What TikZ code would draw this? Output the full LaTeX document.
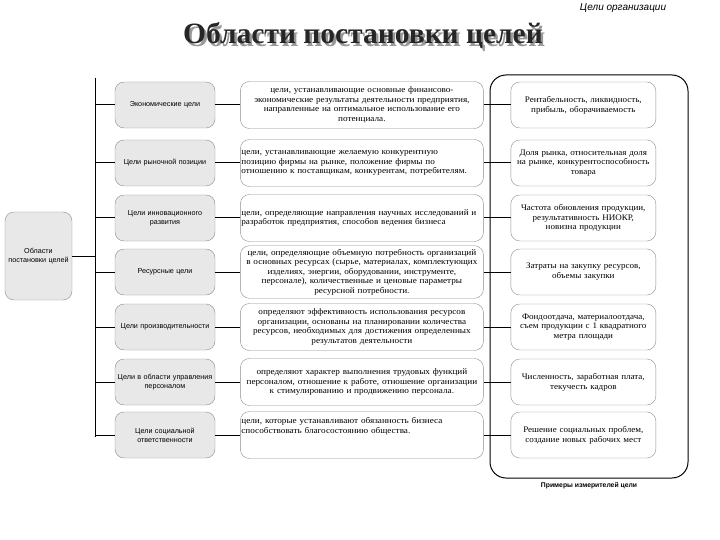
\documentclass[tikz,border=0pt]{standalone}
\usepackage{fontspec}
\setmainfont{Liberation Serif}
\setsansfont{Liberation Sans}
\newfontfamily\descfont{Liberation Serif}[FakeStretch=1.08]
\newfontfamily\gaugefont{Liberation Serif}[FakeStretch=1.06]
\usepackage{tikz}
\usetikzlibrary{positioning}

\begin{document}
\begin{tikzpicture}[
    x=1pt, y=-1pt,
    area/.style={rectangle, draw=black!45, fill=black!9, rounded corners=9pt, minimum width=100pt, minimum height=46pt, text width=98pt, inner xsep=1pt, align=center, font=\sffamily\fontsize{7.2}{9}\selectfont},
    desc/.style={rectangle, draw=black!45, fill=white, rounded corners=9pt, minimum width=243pt, minimum height=47pt, text width=241pt, inner xsep=1pt, align=center, font=\descfont\fontsize{8.5}{9.5}\selectfont},
    gauge/.style={rectangle, draw=black!45, fill=white, rounded corners=9pt, minimum width=145pt, minimum height=46pt, text width=143pt, inner xsep=1pt, align=center, font=\gaugefont\fontsize{8.5}{9.8}\selectfont},
    link/.style={draw=black, line width=1pt},
]
\useasboundingbox (0,0) rectangle (720,540);

% Header
\node[font=\sffamily\itshape\fontsize{10}{11}\selectfont] (head) at (623,8) {Цели организации};
\coordinate (rulea) at (497,18);
\coordinate (ruleb) at (720,18);
\draw[double, double distance=1.6pt, line width=0.6pt] (rulea) -- (ruleb);
\node[font=\bfseries\fontsize{29.5}{30}\selectfont, text=black!85] (title) at (363,36)
  {\makebox[0pt][l]{\raisebox{-2.5pt}[0pt][0pt]{\kern2.5pt\textcolor{black!40}{Области постановки целей}}}Области постановки целей};

% Root
\node[area, minimum width=67pt, text width=65pt, minimum height=88pt] (root) at (38.5,256) {Области\\постановки целей};
\coordinate (spinetop) at (95,78);
\coordinate (spinebot) at (95,437);

% Frame for measures
\node[draw=black, line width=1pt, rounded corners=16pt, minimum width=198pt, minimum height=403pt] (frame) at (589,276.5) {};
\node[font=\sffamily\bfseries\fontsize{6.8}{8}\selectfont, below=0pt of frame] (measure) {Примеры измерителей цели};

% Row 1
\node[area] (a1) at (165,105) {Экономические цели};
\node[desc, right=25pt of a1] (d1) {цели, устанавливающие основные финансово-\\экономические результаты деятельности предприятия,\\направленные на оптимальное использование его\\потенциала.};
\node[gauge, right=27pt of d1] (g1) {Рентабельность, ликвидность,\\прибыль, оборачиваемость};

% Row 2
\node[area] (a2) at (165,163) {Цели рыночной позиции};
\node[desc, align=left, right=25pt of a2] (d2) {цели, устанавливающие желаемую конкурентную\\позицию фирмы на рынке, положение фирмы по\\отношению к поставщикам, конкурентам, потребителям.};
\node[gauge, right=27pt of d2] (g2) {Доля рынка, относительная доля\\на рынке, конкурентоспособность\\товара};

% Row 3
\node[area] (a3) at (165,218) {Цели инновационного\\развития};
\node[desc, align=left, right=25pt of a3] (d3) {цели, определяющие направления научных исследований и\\разработок предприятия, способов ведения бизнеса};
\node[gauge, right=27pt of d3] (g3) {Частота обновления продукции,\\результативность НИОКР,\\новизна продукции};

% Row 4
\node[area] (a4) at (165,272) {Ресурсные цели};
\node[desc, right=25pt of a4] (d4) {цели, определяющие объемную потребность организаций\\в основных ресурсах (сырье, материалах, комплектующих\\изделиях, энергии, оборудовании, инструменте,\\персонале), количественные и ценовые параметры\\ресурсной потребности.};
\node[gauge, right=27pt of d4] (g4) {Затраты на закупку ресурсов,\\объемы закупки};

% Row 5
\node[area] (a5) at (165,327) {Цели производительности};
\node[desc, right=25pt of a5] (d5) {определяют эффективность использования ресурсов\\организации, основаны на планировании количества\\ресурсов, необходимых для достижения определенных\\результатов деятельности};
\node[gauge, right=27pt of d5] (g5) {Фондоотдача, материалоотдача,\\съем продукции с 1 квадратного\\метра площади};

% Row 6
\node[area] (a6) at (165,382) {Цели в области управления\\персоналом};
\node[desc, right=25pt of a6] (d6) {определяют характер выполнения трудовых функций\\персоналом, отношение к работе, отношение организации\\к стимулированию и продвижению персонала.};
\node[gauge, right=27pt of d6] (g6) {Численность, заработная плата,\\текучесть кадров};

% Row 7
\node[area] (a7) at (165,435) {Цели социальной\\ответственности};
\node[desc, align=left, right=25pt of a7] (d7) {цели, которые устанавливают обязанность бизнеса\\способствовать благосостоянию общества.\\~\\~};
\node[gauge, right=27pt of d7] (g7) {Решение социальных проблем,\\создание новых рабочих мест};

% Lines
\draw[link] (spinetop) -- (spinebot);
\draw[link] (root.east) -- (root.east -| spinetop);
\draw[link] (a1.west -| spinetop) -- (a1);
\draw[link] (a2.west -| spinetop) -- (a2);
\draw[link] (a3.west -| spinetop) -- (a3);
\draw[link] (a4.west -| spinetop) -- (a4);
\draw[link] (a5.west -| spinetop) -- (a5);
\draw[link] (a6.west -| spinetop) -- (a6);
\draw[link] (a7.west -| spinetop) -- (a7);
\draw[link] (a1) -- (d1);
\draw[link] (a2) -- (d2);
\draw[link] (a3) -- (d3);
\draw[link] (a4) -- (d4);
\draw[link] (a5) -- (d5);
\draw[link] (a6) -- (d6);
\draw[link] (a7) -- (d7);
\draw[link] (d1) -- (d1.east -| frame.west);
\draw[link] (d2) -- (d2.east -| frame.west);
\draw[link] (d3) -- (d3.east -| frame.west);
\draw[link] (d4) -- (d4.east -| frame.west);
\draw[link] (d5) -- (d5.east -| frame.west);
\draw[link] (d6) -- (d6.east -| frame.west);
\draw[link] (d7) -- (d7.east -| frame.west);
\draw[link] (g1.west -| frame.west) -- (g1);
\draw[link] (g2.west -| frame.west) -- (g2);
\draw[link] (g3.west -| frame.west) -- (g3);
\draw[link] (g4.west -| frame.west) -- (g4);
\draw[link] (g5.west -| frame.west) -- (g5);
\draw[link] (g6.west -| frame.west) -- (g6);
\draw[link] (g7.west -| frame.west) -- (g7);

\end{tikzpicture}
\end{document}
